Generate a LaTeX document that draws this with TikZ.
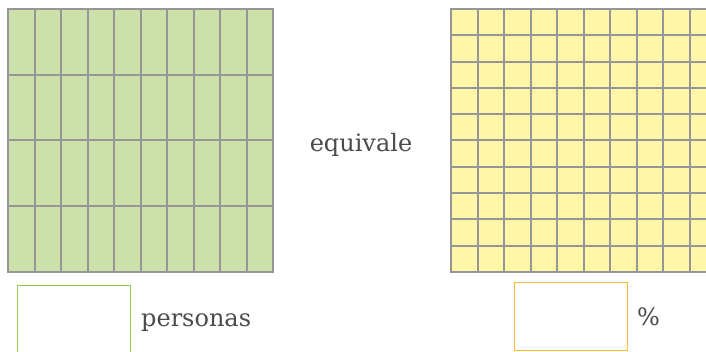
\documentclass[tikz,border=0pt]{standalone}
\usepackage{fontspec}
\setmainfont{DejaVu Serif}
\usetikzlibrary{positioning}
\definecolor{gridgray}{RGB}{150,150,150}
\definecolor{greenfill}{RGB}{204,225,170}
\definecolor{yellowfill}{RGB}{255,246,168}
\definecolor{boxgreen}{RGB}{145,205,75}
\definecolor{boxorange}{RGB}{250,185,55}
\definecolor{textgray}{RGB}{75,75,75}
\begin{document}
\begin{tikzpicture}[x=1pt,y=-1pt,
    gridline/.style={draw=gridgray,line width=2pt,line cap=rect},
    answer/.style={draw,line width=1pt,minimum width=113pt,inner sep=0pt,anchor=north west},
    word/.style={text=textgray,font=\fontsize{24}{28}\selectfont,inner sep=0pt}]
    \useasboundingbox (0,0) rectangle (706,352);

    % green grid, 10 x 4
    \fill[greenfill] (8,9) rectangle (273,272);
    \foreach \i in {0,...,10}
        \draw[gridline] ({8+26.5*\i},9)--({8+26.5*\i},272);
    \foreach \j in {0,...,4}
        \draw[gridline] (8,{9+65.75*\j})--(273,{9+65.75*\j});

    % yellow grid, 10 x 10
    \fill[yellowfill] (451,9) rectangle (716,272);
    \foreach \i in {0,...,10}
        \draw[gridline] ({451+26.5*\i},9)--({451+26.5*\i},272);
    \foreach \j in {0,...,10}
        \draw[gridline] (451,{9+26.3*\j})--(716,{9+26.3*\j});

    \node[word] (equiv) at (361,145) {equivale};

    \node[answer,draw=boxgreen,minimum height=75pt] (personbox) at (17,285) {};
    \node[word,right=10pt of personbox] (personas) {personas};

    \node[answer,draw=boxorange,minimum height=68pt] (percentbox) at (514,282) {};
    \node[word,right=9pt of percentbox] (percent) {\%};
\end{tikzpicture}
\end{document}
